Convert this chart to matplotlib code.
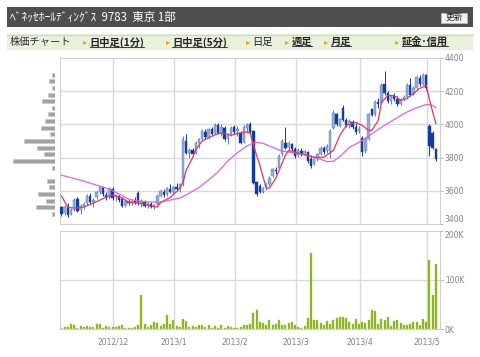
"""Benesse HD (9783) daily candlestick chart with volume and price-by-volume profile."""

import numpy as np
import matplotlib
matplotlib.use('Agg')
import matplotlib.pyplot as plt
from matplotlib.patches import Rectangle
from matplotlib.lines import Line2D

plt.rcParams['font.family'] = ['Noto Sans CJK JP', 'DejaVu Sans']

W, H = 480, 357

# daily OHLC, 2012/11/7 .. 2013/5/7 (one entry per trading day)
opens = [3500, 3465, 3500, 3460, 3485, 3550, 3485, 3510, 3525, 3570, 3530, 3560, 3590, 3620, 3575, 3560, 3610,
         3560, 3570, 3550, 3515, 3535, 3525, 3540, 3585, 3520, 3535, 3510, 3520, 3505, 3520, 3570, 3590, 3580, 3610, 3595,
         3620, 3610, 3640, 3900, 3830, 3845, 3830, 3890, 3910, 3955, 3925, 3970, 3950, 3995, 3950, 3980, 3910, 3940, 3985,
         3960, 3950, 3895, 3980, 4000, 3960, 3650, 3630, 3595, 3620, 3640, 3690, 3725, 3740, 3820, 3890, 3865, 3880, 3850,
         3815, 3840, 3825, 3835, 3790, 3760, 3790, 3820, 3860, 3840, 3840, 3980, 4060, 3990, 4100, 4025, 3995, 4015, 3985, 3960,
         3920, 3840, 3915, 4095, 4060, 4135, 4130, 4245, 4190, 4140, 4170, 4155, 4125, 4150, 4165, 4240, 4185, 4220, 4280, 4245, 4295,
         3990, 3950, 3850]
highs = [3510, 3515, 3525, 3495, 3555, 3560, 3520, 3530, 3580, 3585, 3555, 3600, 3630, 3625, 3590, 3620, 3625,
         3580, 3575, 3560, 3545, 3550, 3545, 3560, 3600, 3550, 3545, 3535, 3530, 3520, 3580, 3610, 3610, 3625, 3640, 3630,
         3650, 3650, 3930, 3940, 3860, 3860, 3900, 3920, 3970, 3975, 3980, 3985, 4010, 4010, 4000, 3990, 3950, 3990, 3995,
         3990, 3960, 3995, 4010, 4015, 3965, 3660, 3640, 3625, 3650, 3690, 3740, 3745, 3820, 3910, 3985, 3900, 3890, 3865,
         3855, 3855, 3845, 3840, 3810, 3800, 3830, 3870, 3870, 3880, 3970, 4085, 4070, 4040, 4115, 4040, 4030, 4025, 4010, 3990,
         3930, 3925, 4070, 4100, 4145, 4160, 4250, 4320, 4200, 4180, 4190, 4170, 4160, 4175, 4250, 4280, 4230, 4295, 4300, 4310, 4305,
         4000, 3960, 3855]
lows = [3450, 3455, 3440, 3455, 3480, 3470, 3460, 3490, 3515, 3520, 3500, 3550, 3580, 3570, 3545, 3550, 3545,
        3540, 3530, 3500, 3505, 3515, 3515, 3520, 3515, 3500, 3500, 3495, 3495, 3490, 3515, 3560, 3565, 3570, 3585, 3585,
        3600, 3595, 3630, 3820, 3800, 3810, 3820, 3860, 3900, 3915, 3915, 3935, 3940, 3940, 3930, 3900, 3880, 3930, 3940,
        3930, 3880, 3890, 3950, 3940, 3640, 3570, 3585, 3585, 3605, 3630, 3685, 3700, 3735, 3810, 3850, 3840, 3830, 3800,
        3805, 3810, 3810, 3770, 3740, 3755, 3780, 3815, 3820, 3830, 3800, 3975, 3990, 3985, 4020, 3985, 3980, 3975, 3940, 3950,
        3810, 3830, 3905, 4050, 4050, 4100, 4120, 4180, 4130, 4120, 4140, 4110, 4115, 4140, 4160, 4170, 4175, 4215, 4230, 4240, 4210,
        3810, 3850, 3780]
closes = [3460, 3505, 3455, 3485, 3545, 3480, 3510, 3520, 3570, 3530, 3545, 3590, 3620, 3580, 3555, 3610, 3555,
          3570, 3545, 3510, 3540, 3525, 3540, 3530, 3525, 3540, 3510, 3525, 3505, 3515, 3570, 3600, 3575, 3615, 3595, 3620,
          3610, 3640, 3915, 3830, 3845, 3820, 3890, 3910, 3960, 3925, 3970, 3945, 3995, 3950, 3985, 3910, 3940, 3980, 3955,
          3975, 3890, 3985, 3995, 3955, 3650, 3580, 3595, 3615, 3640, 3680, 3730, 3720, 3810, 3900, 3860, 3890, 3850, 3810,
          3845, 3820, 3840, 3780, 3750, 3790, 3820, 3860, 3835, 3870, 3960, 4070, 4000, 4030, 4025, 3995, 4020, 3985, 3955, 3975,
          3835, 3915, 4060, 4055, 4135, 4120, 4240, 4190, 4140, 4170, 4150, 4125, 4150, 4165, 4240, 4180, 4220, 4285, 4245, 4295, 4220,
          3870, 3860, 3790]

# volume in thousand shares
volume = [3, 4, 4, 10, 9, 3, 7, 5, 7, 5, 5, 10, 10, 3, 7, 5, 4, 4, 7, 9,
          2, 2, 2, 5, 8, 70, 11, 5, 8, 14, 13, 7, 10, 29, 10, 18, 7, 5, 21, 17,
          4, 7, 5, 9, 9, 5, 9, 3, 7, 3, 9, 3, 6, 5, 3, 2, 5, 8, 9, 10,
          34, 39, 15, 12, 8, 19, 9, 10, 18, 9, 8, 13, 14, 8, 4, 3, 7, 22, 155, 18,
          19, 13, 8, 16, 10, 19, 23, 24, 24, 22, 15, 11, 21, 10, 15, 12, 18, 39, 38, 11,
          20, 18, 24, 7, 17, 18, 12, 9, 8, 11, 15, 15, 9, 20, 14, 140, 70, 133]

# moving averages, read at selected trading days
ma_short_day = [0, 2, 4, 7, 10, 12, 14, 16, 17, 19, 21, 24, 26, 28, 30, 31, 34, 36, 37, 38, 39, 41, 42, 44, 46,
                49, 51, 53, 55, 58, 59, 60, 62, 64, 65, 67, 70, 71, 74, 77, 79, 82, 85, 87, 89, 92, 94, 96,
                97, 99, 100, 102, 104, 106, 108, 110, 112, 114, 115, 116, 117]
ma_short = [3570, 3500, 3496, 3502, 3526, 3544, 3562, 3574, 3570, 3556, 3532, 3526, 3520, 3508, 3502, 3530, 3560,
            3595, 3615, 3650, 3725, 3800, 3850, 3900, 3920, 3945, 3946, 3934, 3946, 3955, 3946, 3874, 3754, 3616,
            3616, 3676, 3814, 3844, 3826, 3814, 3802, 3802, 3844, 3934, 3994, 4012, 3994, 3964, 3964, 4024, 4133,
            4174, 4174, 4144, 4156, 4187, 4217, 4235, 4150, 4075, 4006]
ma_long_day = [0, 6, 11, 15, 18, 21, 24, 28, 31, 34, 37, 40, 43, 46, 49, 52, 55, 58, 60, 61, 63, 66, 69, 74, 78,
               81, 83, 85, 87, 90, 93, 96, 100, 104, 108, 111, 114, 116, 117]
ma_long = [3694, 3664, 3634, 3610, 3580, 3550, 3538, 3532, 3532, 3544, 3556, 3586, 3620, 3665, 3715, 3780, 3830,
           3870, 3888, 3892, 3886, 3862, 3838, 3826, 3808, 3790, 3775, 3778, 3806, 3862, 3892, 3930, 3982, 4030,
           4075, 4100, 4120, 4115, 4100]

# price-by-volume profile (left side)
profile_price = [4300, 4260, 4220, 4180, 4140, 4100, 4060, 4020, 3980, 3940, 3900,
                 3860, 3820, 3780, 3740, 3700, 3660, 3620, 3580, 3540, 3500, 3460]
profile_vol = [3, 6, 3, 7.5, 13, 3, 7.3, 10.5, 14.5, 5, 31, 17.7, 11, 41.7, 3, 0, 8, 6.2, 17.3, 8.8, 18.7, 3]

# first trading day of each month and its label
month_day = [17, 36, 55, 74, 94, 115]
month_label = ['2012/12', '2013/1', '2013/2', '2013/3', '2013/4', '2013/5']

price_ticks = [3400, 3600, 3800, 4000, 4200, 4400]
vol_ticks = [0, 100, 200]
vol_tick_labels = ['0K', '100K', '200K']

GRID = '#dadada'
LABEL = '#808080'
UP_FACE, UP_EDGE = '#93abd6', '#5a7cc0'
DOWN_FACE = '#123c9e'


def fx(px):
    return px / W


def fy(py):
    return 1 - py / H


fig = plt.figure(figsize=(W / 100, H / 100), dpi=100)

# header bar
fig.add_artist(Rectangle((fx(7), fy(27)), fx(466), 20 / H, transform=fig.transFigure,
                         facecolor='#4e4e4e', edgecolor='none'))
fig.text(fx(9.5), fy(17.5), 'ﾍﾞﾈｯｾﾎｰﾙﾃﾞｨﾝｸﾞｽ  9783  東京 1部', color='white',
         fontsize=8.3, va='center', ha='left')
fig.add_artist(Rectangle((fx(441), fy(22.7)), fx(26), 10 / H, transform=fig.transFigure,
                         facecolor='#f4f4f4', edgecolor='#bbbbbb', lw=0.6))
fig.text(fx(454), fy(17.8), '更新', color='#222222', fontsize=6.3, va='center', ha='center')

# nav bar
fig.add_artist(Rectangle((fx(7), fy(50)), fx(466), 15.7 / H, transform=fig.transFigure,
                         facecolor='#e8f1da', edgecolor='none'))
fig.add_artist(Line2D([fx(7), fx(473)], [fy(34.5), fy(34.5)], transform=fig.transFigure,
                      color='#cbd8bc', lw=0.8))
fig.text(fx(9.5), fy(42), '株価チャート', color='#333333', fontsize=7.4, va='center')
nav = [(83, '日中足(1分)', True), (165.7, '日中足(5分)', True), (246, '日足', False),
       (285, '週足', True), (324, '月足', True), (395, '証金･信用', True)]
links = []
for px, label, is_link in nav:
    fig.text(fx(px), fy(42), '▸', color='#f0a020', fontsize=6, va='center', family=['DejaVu Sans'])
    t = fig.text(fx(px + 6.5), fy(42), label, color='#222222', fontsize=7.4, va='center',
                 fontweight='bold' if is_link else 'normal')
    if is_link:
        links.append(t)

# price panel
days = np.arange(len(closes))
o = np.array(opens)
c = np.array(closes)
up = c >= o

ax = fig.add_axes([fx(60), fy(224), fx(380), 166 / H])
for p in price_ticks[1:-1]:
    ax.axhline(p, color=GRID, lw=1.0, zorder=0)
for d in month_day:
    ax.axvline(d - 0.85, color=GRID, lw=1.0, zorder=0)

ax.vlines(days, lows, highs, colors=np.where(up, UP_EDGE, DOWN_FACE), lw=0.7, zorder=2)
body = np.maximum(np.abs(c - o), 4)
ax.bar(days, body, bottom=np.minimum(o, c), width=0.75,
       color=np.where(up, UP_FACE, DOWN_FACE), edgecolor=np.where(up, UP_EDGE, DOWN_FACE),
       lw=0.3, zorder=3)
ax.plot(ma_long_day, ma_long, color='#e060f0', lw=0.9, zorder=4)
ax.plot(ma_short_day, ma_short, color='#e8345c', lw=0.9, zorder=5)

ax.set_xlim(-0.45, 118.3)
ax.set_ylim(3400, 4400)
ax.set_xticks([])
ax.yaxis.tick_right()
ax.set_yticks(price_ticks)
ax.set_yticklabels([str(p) for p in price_ticks])
ax.tick_params(axis='y', length=2, width=0.6, color='#aaaaaa', pad=1.5,
               labelsize=5.5, labelcolor=LABEL)
for s in ax.spines.values():
    s.set_color('#d0d0d0')
    s.set_linewidth(0.8)
for lbl in ax.get_yticklabels():
    lbl.set_family(['DejaVu Sans'])
# bottom label sits just above the volume panel's top label
ax.get_yticklabels()[0].set_va('bottom')

# price-by-volume profile
axp = fig.add_axes([0, fy(224), fx(55), 166 / H])
axp.barh(profile_price, profile_vol, height=24, color='#a2a2a2', edgecolor='#c4c4c4', lw=0.4)
axp.set_xlim(55, 0)
axp.set_ylim(3400, 4400)
axp.axis('off')

# volume panel
axv = fig.add_axes([fx(60), fy(329.3), fx(380), 98.8 / H])
axv.axhline(100, color=GRID, lw=1.0, zorder=0)
for d in month_day:
    axv.axvline(d - 0.85, color=GRID, lw=1.0, zorder=0)
axv.bar(days, volume, width=0.65, color='#86b01c', edgecolor='#a8cc48', lw=0.3, zorder=2)
axv.set_xlim(-0.45, 118.3)
axv.set_ylim(0, 200)
axv.yaxis.tick_right()
axv.set_yticks(vol_ticks)
axv.set_yticklabels(vol_tick_labels)
axv.set_xticks([d - 0.85 for d in month_day])
axv.set_xticklabels(month_label)
axv.tick_params(axis='y', length=2, width=0.6, color='#aaaaaa', pad=1.5,
                labelsize=5.5, labelcolor=LABEL)
axv.tick_params(axis='x', length=0, pad=6, labelsize=5.5, labelcolor=LABEL)
for s in axv.spines.values():
    s.set_color('#d0d0d0')
    s.set_linewidth(0.8)
for lbl in axv.get_yticklabels() + axv.get_xticklabels():
    lbl.set_family(['DejaVu Sans'])
axv.get_yticklabels()[-1].set_va('top')

# underline the nav links
fig.canvas.draw()
renderer = fig.canvas.get_renderer()
inv = fig.transFigure.inverted()
for t in links:
    bb = t.get_window_extent(renderer)
    (x0, y0), (x1, _) = inv.transform([(bb.x0, bb.y0), (bb.x1, bb.y1)])
    fig.add_artist(Line2D([x0, x1], [y0 + 0.002, y0 + 0.002], transform=fig.transFigure,
                          color='#222222', lw=0.6))

fig.savefig('out.png', dpi=100)
